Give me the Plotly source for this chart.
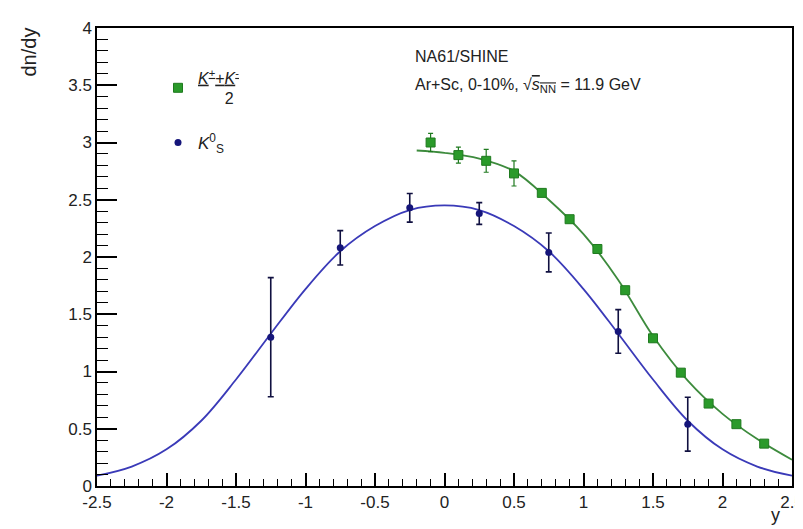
import plotly.graph_objects as go

# ---------------- data ----------------
# (K+ + K-)/2
kpm_y_pos = [-0.1, 0.1, 0.3, 0.5, 0.7, 0.9, 1.1, 1.3, 1.5, 1.7, 1.9, 2.1, 2.3]
kpm_dndy = [3.00, 2.89, 2.84, 2.73, 2.56, 2.33, 2.07, 1.71, 1.29, 0.99, 0.72, 0.54, 0.37]
kpm_err = [0.08, 0.07, 0.10, 0.11, 0.03, 0.03, 0.03, 0.03, 0.03, 0.02, 0.02, 0.02, 0.02]

# K0_S
k0s_y_pos = [-1.25, -0.75, -0.25, 0.25, 0.75, 1.25, 1.75]
k0s_dndy = [1.30, 2.08, 2.43, 2.38, 2.04, 1.35, 0.54]
k0s_err = [0.52, 0.15, 0.125, 0.095, 0.17, 0.19, 0.235]

# fitted curves
k0s_fit_x = [-2.5, -2.25, -2.0, -1.75, -1.5, -1.25, -1.0, -0.75, -0.5, -0.25, 0.0,
             0.25, 0.5, 0.75, 1.0, 1.25, 1.5, 1.75, 2.0, 2.25, 2.5]
k0s_fit_y = [0.09, 0.17, 0.32, 0.57, 0.93, 1.33, 1.72, 2.05, 2.27, 2.41, 2.45,
             2.41, 2.27, 2.05, 1.72, 1.33, 0.93, 0.57, 0.32, 0.17, 0.09]
kpm_fit_x = [-0.2, 0.0, 0.25, 0.5, 0.75, 1.0, 1.25, 1.5, 1.75, 2.0, 2.25, 2.5]
kpm_fit_y = [2.93, 2.91, 2.86, 2.75, 2.50, 2.20, 1.80, 1.31, 0.92, 0.63, 0.41, 0.23]

x_tickvals = [-2.5, -2.0, -1.5, -1.0, -0.5, 0.0, 0.5, 1.0, 1.5, 2.0, 2.5]
x_ticktext = ["-2.5", "-2", "-1.5", "-1", "-0.5", "0", "0.5", "1", "1.5", "2", "2.5"]
y_tickvals = [0, 0.5, 1, 1.5, 2, 2.5, 3, 3.5, 4]
y_ticktext = ["0", "0.5", "1", "1.5", "2", "2.5", "3", "3.5", "4"]

# ---------------- styles ----------------
FONT = "Liberation Sans, Arial, sans-serif"
TXT = "#222222"
GREEN = "#2a9a2a"
GREEN_DARK = "#1f7a1f"
GREEN_LINE = "#3d8b3d"
BLUE = "#15157a"
BLUE_LINE = "#3a3ab8"
AX = "black"

fig = go.Figure()

fig.add_trace(go.Scatter(x=k0s_fit_x, y=k0s_fit_y, mode="lines",
                         line=dict(color=BLUE_LINE, width=1.8, shape="spline", smoothing=1.0),
                         showlegend=False, hoverinfo="skip"))
fig.add_trace(go.Scatter(x=kpm_fit_x, y=kpm_fit_y, mode="lines",
                         line=dict(color=GREEN_LINE, width=1.8, shape="spline", smoothing=1.0),
                         showlegend=False, hoverinfo="skip"))

fig.add_trace(go.Scatter(
    x=kpm_y_pos, y=kpm_dndy, mode="markers",
    name="<u><i>K</i><sup>+</sup>+<i>K</i><sup>-</sup></u><br>&nbsp;&nbsp;&nbsp;&nbsp;&nbsp;&nbsp;2",
    marker=dict(symbol="square", size=9, color=GREEN, line=dict(color=GREEN_DARK, width=1)),
    error_y=dict(type="data", array=kpm_err, visible=True, color=GREEN_DARK, thickness=1.2, width=2.5),
    legend="legend"))

fig.add_trace(go.Scatter(
    x=k0s_y_pos, y=k0s_dndy, mode="markers",
    name="<i>K</i><sup>0</sup><sub>S</sub>",
    marker=dict(symbol="circle", size=7, color=BLUE),
    error_y=dict(type="data", array=k0s_err, visible=True, color="#101040", thickness=1.6, width=3),
    legend="legend2"))

L, R, T, B = 89, 19, 20, 51
W, H = 803, 529
pw, ph = W - L - R, H - T - B

def px(xp):
    return (xp - L) / pw

def py(yp):
    return (H - B - yp) / ph

fig.update_layout(width=W, height=H, plot_bgcolor="white", paper_bgcolor="white",
                  margin=dict(l=L, r=R, t=T, b=B, autoexpand=False))

fig.update_xaxes(range=[-2.5, 2.5], tickmode="array", tickvals=x_tickvals, ticktext=x_ticktext,
                 ticks="inside", ticklen=13, tickwidth=1.6, tickcolor=AX,
                 showline=True, linecolor=AX, linewidth=1.5, mirror=True,
                 showgrid=False, zeroline=False,
                 tickfont=dict(family=FONT, size=17, color=TXT),
                 minor=dict(ticks="inside", ticklen=7, tickcolor=AX, dtick=0.1, tick0=0, tickwidth=1.3))
fig.update_yaxes(range=[0, 4], tickmode="array", tickvals=y_tickvals, ticktext=y_ticktext,
                 ticks="inside", ticklen=20, tickwidth=1.6, tickcolor=AX,
                 showline=True, linecolor=AX, linewidth=1.5, mirror=True,
                 showgrid=False, zeroline=False,
                 tickfont=dict(family=FONT, size=17, color=TXT),
                 minor=dict(ticks="inside", ticklen=11, tickcolor=AX, dtick=0.1, tick0=0, tickwidth=1.3))

fig.update_layout(
    legend=dict(x=px(150), y=py(80), xanchor="left", yanchor="middle",
                bgcolor="rgba(0,0,0,0)", font=dict(family=FONT, size=16, color=TXT),
                itemwidth=30),
    legend2=dict(x=px(150), y=py(135), xanchor="left", yanchor="middle",
                 bgcolor="rgba(0,0,0,0)", font=dict(family=FONT, size=17, color=TXT),
                 itemwidth=30),
    annotations=[
        dict(text="NA61/SHINE", x=px(405), y=py(49), xref="paper", yref="paper",
             xanchor="left", yanchor="middle", showarrow=False,
             font=dict(family=FONT, size=16, color=TXT)),
        dict(text="Ar+Sc, 0-10%, √<span style='text-decoration:overline'><i>s</i><sub>NN</sub></span> = 11.9 GeV",
             x=px(405), y=py(77), xref="paper", yref="paper",
             xanchor="left", yanchor="middle", showarrow=False,
             font=dict(family=FONT, size=16, color=TXT)),
        dict(text="dn/dy", x=px(20), y=py(18), xref="paper", yref="paper",
             xanchor="center", yanchor="top", textangle=-90, showarrow=False,
             font=dict(family=FONT, size=20, color=TXT)),
        dict(text="y", x=px(767), y=py(507), xref="paper", yref="paper",
             xanchor="center", yanchor="middle", showarrow=False,
             font=dict(family=FONT, size=18, color=TXT)),
    ],
)

fig.write_html("out.html")
